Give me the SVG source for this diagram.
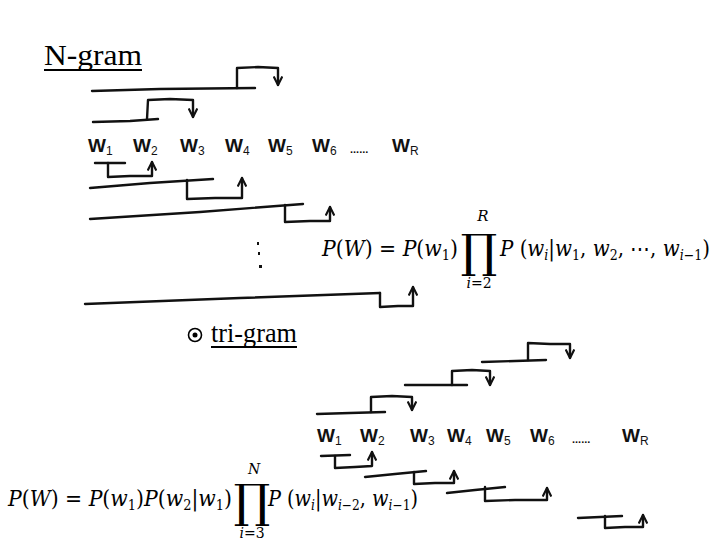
<svg xmlns="http://www.w3.org/2000/svg" width="720" height="540" viewBox="0 0 720 540">
<style>
.s{fill:none;stroke:#111;stroke-width:2.4;stroke-linejoin:round;stroke-linecap:round}
.w{font-family:"Liberation Sans",Arial,sans-serif;font-size:19px;font-weight:bold;fill:#111}
.sub{font-size:12px;font-weight:normal}
.ttl{font-family:"Liberation Serif","Times New Roman",serif;font-size:29px;fill:#000}
.m{font-family:"DejaVu Serif","Liberation Serif",serif;font-size:22px;fill:#000}
.mi{font-style:italic}
.ms{font-size:14px}
</style>
<defs>
<marker id="ah" viewBox="0 0 10 10" refX="9" refY="5" markerWidth="4.5" markerHeight="4.5" orient="auto">
<path d="M1,1 L9,5 L1,9" fill="none" stroke="#111" stroke-width="2"/>
</marker>
</defs>
<rect width="720" height="540" fill="#fff"/>

<g id="title">
<text class="ttl" x="44" y="65" textLength="98" lengthAdjust="spacingAndGlyphs">N-gram</text>
<line x1="44" y1="70" x2="142" y2="70" stroke="#000" stroke-width="2"/>
</g>

<g id="ngram-words">
<text class="w" x="88" y="152">W<tspan class="sub" dy="3">1</tspan></text>
<text class="w" x="133" y="152">W<tspan class="sub" dy="3">2</tspan></text>
<text class="w" x="180" y="152">W<tspan class="sub" dy="3">3</tspan></text>
<text class="w" x="225" y="152">W<tspan class="sub" dy="3">4</tspan></text>
<text class="w" x="268" y="152">W<tspan class="sub" dy="3">5</tspan></text>
<text class="w" x="312" y="152">W<tspan class="sub" dy="3">6</tspan></text>
<text class="w" x="350" y="153" style="font-size:11px">......</text>
<text class="w" x="392" y="152">W<tspan class="sub" dy="3">R</tspan></text>
</g>

<g id="strokes">
<polyline class="s" points="92,91 160,89 255,88"/>
<polyline class="s" points="237,88 237,68 258,67 278,68 278,85" marker-end="url(#ah)"/>
<polyline class="s" points="93,122 130,121 158,119"/>
<polyline class="s" points="147,119 148,100 170,99 193,100 193,117" marker-end="url(#ah)"/>

<polyline class="s" points="95,163 125,163"/>
<polyline class="s" points="108,163 108,177 130,176 152,176 152,162" marker-end="url(#ah)"/>
<polyline class="s" points="90,188 150,183 213,179"/>
<polyline class="s" points="187,180 187,199 215,198 242,198 242,178" marker-end="url(#ah)"/>
<polyline class="s" points="90,219 200,212 303,204"/>
<polyline class="s" points="285,205 285,222 310,221 330,221 330,207" marker-end="url(#ah)"/>
<polyline class="s" points="85,304 240,298 380,293"/>
<polyline class="s" points="380,293 380,307 398,306 413,306 413,287" marker-end="url(#ah)"/>

<polyline class="s" points="317,414 350,413 385,412"/>
<polyline class="s" points="371,412 371,397 392,396 412,397 412,410" marker-end="url(#ah)"/>
<polyline class="s" points="405,385 435,385 467,385"/>
<polyline class="s" points="452,385 452,371 472,370 490,371 490,385" marker-end="url(#ah)"/>
<polyline class="s" points="482,362 515,361 546,360"/>
<polyline class="s" points="528,360 528,343 550,344 570,344 570,358" marker-end="url(#ah)"/>

<polyline class="s" points="321,456 350,455"/>
<polyline class="s" points="335,456 335,468 355,467 372,466 372,452" marker-end="url(#ah)"/>
<polyline class="s" points="365,477 395,474 426,471"/>
<polyline class="s" points="414,472 414,484 435,483 454,483 454,471" marker-end="url(#ah)"/>
<polyline class="s" points="447,493 475,490 505,487"/>
<polyline class="s" points="485,487 485,501 515,500 547,500 547,488" marker-end="url(#ah)"/>
<polyline class="s" points="578,518 600,517 622,516"/>
<polyline class="s" points="605,516 605,528 625,527 643,527 643,515" marker-end="url(#ah)"/>
</g>

<g id="dots" fill="#111">
<rect x="257" y="242" width="2" height="3"/>
<rect x="258" y="252" width="2" height="3"/>
<rect x="259" y="265" width="3" height="3"/>
</g>

<g id="formula1">
<text class="m" x="322" y="256" textLength="136" lengthAdjust="spacingAndGlyphs"><tspan class="mi">P</tspan>(<tspan class="mi">W</tspan>) = <tspan class="mi">P</tspan>(<tspan class="mi">w</tspan><tspan class="ms" dy="4">1</tspan><tspan dy="-4">)</tspan></text>
<text class="m" x="479" y="267" text-anchor="middle" style="font-size:46px">∏</text>
<text class="m mi" x="483" y="221" text-anchor="middle" style="font-size:15px">R</text>
<text class="m" x="479" y="288" text-anchor="middle" style="font-size:14px"><tspan class="mi">i</tspan>=2</text>
<text class="m" x="500" y="256" textLength="210" lengthAdjust="spacingAndGlyphs"><tspan class="mi">P</tspan> (<tspan class="mi">w</tspan><tspan class="ms mi" dy="4">i</tspan><tspan dy="-4">|</tspan><tspan class="mi">w</tspan><tspan class="ms" dy="4">1</tspan><tspan dy="-4">, </tspan><tspan class="mi">w</tspan><tspan class="ms" dy="4">2</tspan><tspan dy="-4">, ⋯, </tspan><tspan class="mi">w</tspan><tspan class="ms" dy="4"><tspan class="mi">i</tspan>−1</tspan><tspan dy="-4">)</tspan></text>
</g>

<g id="trigram-title">
<circle cx="195" cy="335" r="6.5" fill="none" stroke="#000" stroke-width="1.6"/>
<circle cx="195" cy="335" r="2.5" fill="#000"/>
<text class="ttl" x="211" y="342" textLength="86" lengthAdjust="spacingAndGlyphs" style="font-size:27px">tri-gram</text>
<line x1="211" y1="347" x2="297" y2="347" stroke="#000" stroke-width="2"/>
</g>

<g id="trigram-words">
<text class="w" x="317" y="442">W<tspan class="sub" dy="3">1</tspan></text>
<text class="w" x="360" y="442">W<tspan class="sub" dy="3">2</tspan></text>
<text class="w" x="410" y="442">W<tspan class="sub" dy="3">3</tspan></text>
<text class="w" x="447" y="442">W<tspan class="sub" dy="3">4</tspan></text>
<text class="w" x="486" y="442">W<tspan class="sub" dy="3">5</tspan></text>
<text class="w" x="530" y="442">W<tspan class="sub" dy="3">6</tspan></text>
<text class="w" x="572" y="443" style="font-size:11px">......</text>
<text class="w" x="622" y="442">W<tspan class="sub" dy="3">R</tspan></text>
</g>

<g id="formula2">
<text class="m" x="8" y="506" textLength="224" lengthAdjust="spacingAndGlyphs"><tspan class="mi">P</tspan>(<tspan class="mi">W</tspan>) = <tspan class="mi">P</tspan>(<tspan class="mi">w</tspan><tspan class="ms" dy="4">1</tspan><tspan dy="-4">)</tspan><tspan class="mi">P</tspan>(<tspan class="mi">w</tspan><tspan class="ms" dy="4">2</tspan><tspan dy="-4">|</tspan><tspan class="mi">w</tspan><tspan class="ms" dy="4">1</tspan><tspan dy="-4">)</tspan></text>
<text class="m" x="252" y="517" text-anchor="middle" style="font-size:46px">∏</text>
<text class="m mi" x="254" y="474" text-anchor="middle" style="font-size:14px">N</text>
<text class="m" x="252" y="538" text-anchor="middle" style="font-size:14px"><tspan class="mi">i</tspan>=3</text>
<text class="m" x="268" y="506" textLength="150" lengthAdjust="spacingAndGlyphs"><tspan class="mi">P</tspan> (<tspan class="mi">w</tspan><tspan class="ms mi" dy="4">i</tspan><tspan dy="-4">|</tspan><tspan class="mi">w</tspan><tspan class="ms" dy="4"><tspan class="mi">i</tspan>−2</tspan><tspan dy="-4">, </tspan><tspan class="mi">w</tspan><tspan class="ms" dy="4"><tspan class="mi">i</tspan>−1</tspan><tspan dy="-4">)</tspan></text>
</g>
</svg>
